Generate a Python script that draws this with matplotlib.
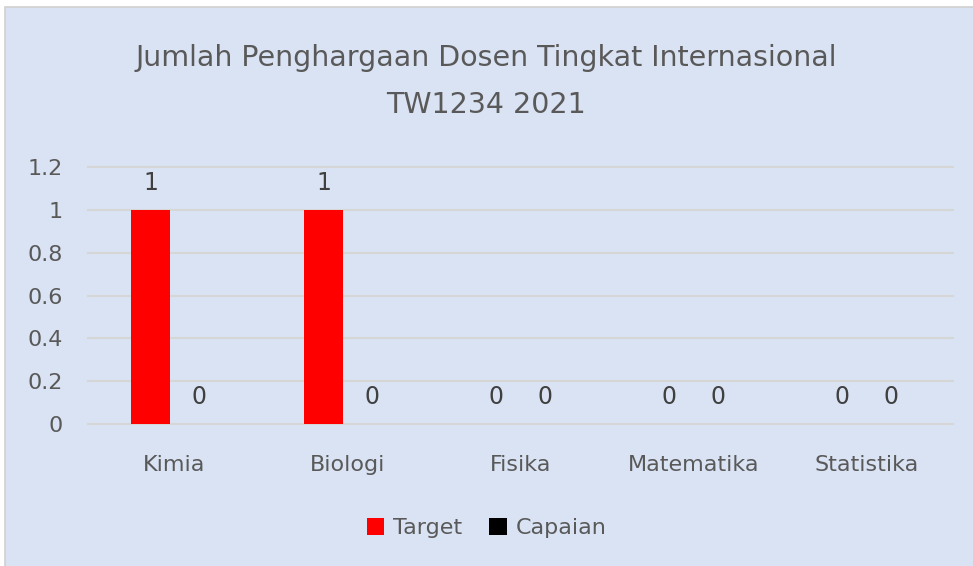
import matplotlib
matplotlib.use("Agg")
import matplotlib.pyplot as plt
import numpy as np
from matplotlib.patches import Rectangle

plt.rcParams['font.family'] = ['DejaVu Sans']

categories = ["Kimia", "Biologi", "Fisika", "Matematika", "Statistika"]
target = [1, 1, 0, 0, 0]
capaian = [0, 0, 0, 0, 0]
yticks = [0, 0.2, 0.4, 0.6, 0.8, 1, 1.2]
ytick_labels = ["0", "0.2", "0.4", "0.6", "0.8", "1", "1.2"]

bg = "#DAE3F3"
txt = "#595959"

fig = plt.figure(figsize=(9.73, 5.66), dpi=100)
fig.patch.set_facecolor("white")
# chart area panel with thin border
fig.patches.append(Rectangle((5 / 973, -0.01), 1, 1.01 - 7 / 566, transform=fig.transFigure,
                             facecolor=bg, edgecolor="#D0D0D0", linewidth=1.2, zorder=-5))

ax = fig.add_axes([88 / 973, 1 - 424 / 566, (953 - 88) / 973, (424 - 167) / 566])
ax.set_facecolor(bg)
ax.set_zorder(2)

x = np.arange(len(categories))
w = 0.225
off = 0.139
b1 = ax.bar(x - off, target, w, color="#FF0000", label="Target", zorder=2)
b2 = ax.bar(x + off, capaian, w, color="#000000", label="Capaian", zorder=2)

for bars in (b1, b2):
    for r in bars:
        ax.text(r.get_x() + r.get_width() / 2, r.get_height() + 0.07, "%d" % r.get_height(),
                ha="center", va="bottom", fontsize=17, color="#404040")

ax.set_xlim(-0.5, len(categories) - 0.5)
ax.set_ylim(0, 1.2)
ax.set_yticks(yticks)
ax.set_yticklabels(ytick_labels)
ax.set_xticks(x)
ax.set_xticklabels(categories)
ax.tick_params(axis="both", length=0, labelsize=16, colors=txt)
ax.tick_params(axis="y", pad=18)
ax.tick_params(axis="x", pad=22)
ax.yaxis.grid(True, color="#D6D6D6", linewidth=1.5, zorder=0)
for gl in ax.get_ygridlines():
    gl.set_clip_on(False)
ax.set_axisbelow(True)
for s in ax.spines.values():
    s.set_visible(False)

fig.text(0.5, 1 - 58 / 566, "Jumlah Penghargaan Dosen Tingkat Internasional", ha="center",
         va="center", fontsize=20.5, color=txt)
fig.text(0.5, 1 - 105 / 566, "TW1234 2021", ha="center", va="center", fontsize=20.5, color=txt)

fig.legend(loc="center", bbox_to_anchor=(0.5, 1 - 528 / 566), ncol=2, frameon=False,
           fontsize=16, labelcolor=txt, handlelength=0.8, handleheight=0.8,
           handletextpad=0.4, columnspacing=1.2)

fig.savefig("out.png", dpi=100, facecolor=fig.get_facecolor())
